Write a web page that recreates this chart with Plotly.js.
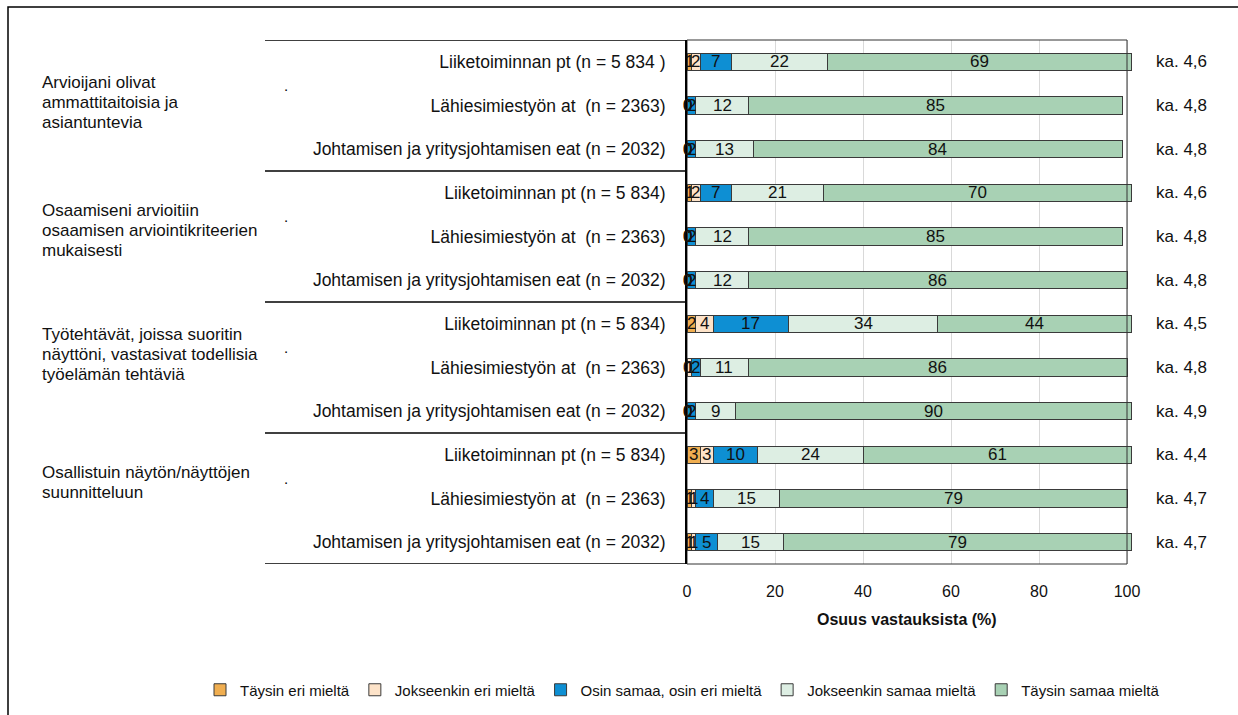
<!DOCTYPE html>
<html>
<head>
<meta charset="utf-8">
<script src="https://cdn.plot.ly/plotly-3.0.1.min.js"></script>
<style>html,body{margin:0;padding:0;background:#fff;}#chart{width:1238px;height:715px;}</style>
</head>
<body>
<div id="chart"></div>
<script>
// ---- data ----
const groupLabels = [
  ["Arvioijani olivat", "ammattitaitoisia ja", "asiantuntevia"],
  ["Osaamiseni arvioitiin", "osaamisen arviointikriteerien", "mukaisesti"],
  ["Työtehtävät, joissa suoritin", "näyttöni, vastasivat todellisia", "työelämän tehtäviä"],
  ["Osallistuin näytön/näyttöjen", "suunnitteluun"]
];
const rowLabels = [
  "Liiketoiminnan pt (n = 5 834 )", "Lähiesimiestyön at  (n = 2363)", "Johtamisen ja yritysjohtamisen eat (n = 2032)",
  "Liiketoiminnan pt (n = 5 834)", "Lähiesimiestyön at  (n = 2363)", "Johtamisen ja yritysjohtamisen eat (n = 2032)",
  "Liiketoiminnan pt (n = 5 834)", "Lähiesimiestyön at  (n = 2363)", "Johtamisen ja yritysjohtamisen eat (n = 2032)",
  "Liiketoiminnan pt (n = 5 834)", "Lähiesimiestyön at  (n = 2363)", "Johtamisen ja yritysjohtamisen eat (n = 2032)"
];
const seriesNames = ["Täysin eri mieltä", "Jokseenkin eri mieltä", "Osin samaa, osin eri mieltä", "Jokseenkin samaa mieltä", "Täysin samaa mieltä"];
const taysinEri       = [1, 0, 0,  1, 0, 0,  2, 0, 0,  3, 1, 1];
const jokseenkinEri   = [2, 0, 0,  2, 0, 0,  4, 1, 0,  3, 1, 1];
const osinSamaa       = [7, 2, 2,  7, 2, 2, 17, 2, 2, 10, 4, 5];
const jokseenkinSamaa = [22, 12, 13, 21, 12, 12, 34, 11, 9, 24, 15, 15];
const taysinSamaa     = [69, 85, 84, 70, 85, 86, 44, 86, 90, 61, 79, 79];
const kaValues = [4.6, 4.8, 4.8, 4.6, 4.8, 4.8, 4.5, 4.8, 4.9, 4.4, 4.7, 4.7];
const xTicks = [0, 20, 40, 60, 80, 100];

// ---- styling ----
const colors = ["#F0AE50", "#FDE3C9", "#0E8FD3", "#DDEEE3", "#A8D1B4"];
const FONT = "Liberation Sans, Arial, sans-serif";

const seriesValues = [taysinEri, jokseenkinEri, osinSamaa, jokseenkinSamaa, taysinSamaa];
const rows = rowLabels.map((_, i) => i);

const traces = seriesValues.map((vals, s) => ({
  type: "bar", orientation: "h",
  name: seriesNames[s],
  x: vals, y: rows,
  marker: {color: colors[s], line: {color: "#3a3a3a", width: 1}},
  hoverinfo: "skip"
}));

// layout geometry (pixels -> paper)
const L = 687, R = 104, T = 40, B = 151, W = 1238 - L - R, H = 715 - T - B;
const pxX = px => (px - L) / W;
const pxY = py => (T + H - py) / H;
const pxPerUnit = 4.4;
const xMax = W / pxPerUnit;

const annotations = [];
rows.forEach(r => {
  let cum = 0;
  seriesValues.forEach(vals => {
    const v = vals[r];
    annotations.push({x: cum + v / 2, y: r, xref: "x", yref: "y", text: String(v), showarrow: false,
      font: {family: FONT, size: 17, color: "#111"}});
    cum += v;
  });
  annotations.push({x: pxX(1181), y: r, xref: "paper", yref: "y", text: "ka. " + kaValues[r].toFixed(1).replace(".", ","),
    showarrow: false, xanchor: "center", font: {family: FONT, size: 17, color: "#111"}});
});
// group labels (line by line), dots
const groupShift = [3, 6, 13, 16];
const lineGap = 20;
groupLabels.forEach((lines, gi) => {
  const n = lines.length;
  lines.forEach((ln, li) => {
    annotations.push({x: pxX(40), y: gi * 3 + 1, xref: "paper", yref: "y", text: ln, showarrow: false,
      xanchor: "left", align: "left", yshift: groupShift[gi] + ((n - 1) / 2 - li) * lineGap,
      font: {family: FONT, size: 17, color: "#111"}});
  });
  annotations.push({x: pxX(286), y: gi * 3 + 1, xref: "paper", yref: "y", text: ".", showarrow: false,
    xanchor: "center", yshift: 20, font: {family: FONT, size: 15, color: "#000"}});
});
// x-axis title
annotations.push({x: 50, y: pxY(619), xref: "x", yref: "paper", yanchor: "middle", text: "<b>Osuus vastauksista (%)</b>", showarrow: false,
  font: {family: FONT, size: 16, color: "#111"}});

const shapes = [];
for (let gi = 0; gi <= groupLabels.length; gi++) {
  shapes.push({type: "line", xref: "paper", yref: "y", x0: pxX(265), x1: 0, y0: gi * 3 - 0.5, y1: gi * 3 - 0.5,
    line: {color: "#000", width: 1.5}});
}
shapes.push({type: "rect", xref: "x", yref: "paper", x0: 0, x1: 100, y0: 0, y1: 1, line: {color: "#333", width: 1}, layer: "above"});
shapes.push({type: "rect", xref: "paper", yref: "paper", x0: pxX(8), x1: pxX(1245), y0: pxY(725), y1: pxY(7), line: {color: "#000", width: 1.5}});

const layout = {
  width: 1238, height: 715,
  margin: {l: L, r: R, t: T, b: B, pad: 0, autoexpand: false},
  paper_bgcolor: "#fff", plot_bgcolor: "#fff",
  barmode: "stack", bargap: 0.6,
  font: {family: FONT, size: 16, color: "#111"},
  xaxis: {range: [0, xMax], tickvals: xTicks, ticktext: xTicks.map(String), showgrid: true, gridcolor: "#D9D9D9", gridwidth: 1,
    zeroline: false, showline: false, ticks: "outside", ticklen: 13, tickcolor: "rgba(0,0,0,0)",
    tickfont: {family: FONT, size: 16, color: "#111"}, automargin: false, fixedrange: true},
  yaxis: {range: [11.5, -0.5], tickvals: rows, ticktext: rowLabels, showgrid: false, zeroline: false,
    showline: true, linecolor: "#000", linewidth: 2, ticks: "outside", ticklen: 16, tickcolor: "rgba(0,0,0,0)",
    tickfont: {family: FONT, size: 17.5, color: "#111"}, automargin: false, fixedrange: true},
  showlegend: true,
  legend: {orientation: "h", x: pxX(200), xanchor: "left", y: pxY(690), yanchor: "middle",
    font: {family: FONT, size: 15, color: "#111"}, traceorder: "normal", itemwidth: 30, bgcolor: "rgba(0,0,0,0)"},
  annotations: annotations,
  shapes: shapes
};

Plotly.newPlot("chart", traces, layout, {displayModeBar: false, staticPlot: true});
</script>
</body>
</html>
